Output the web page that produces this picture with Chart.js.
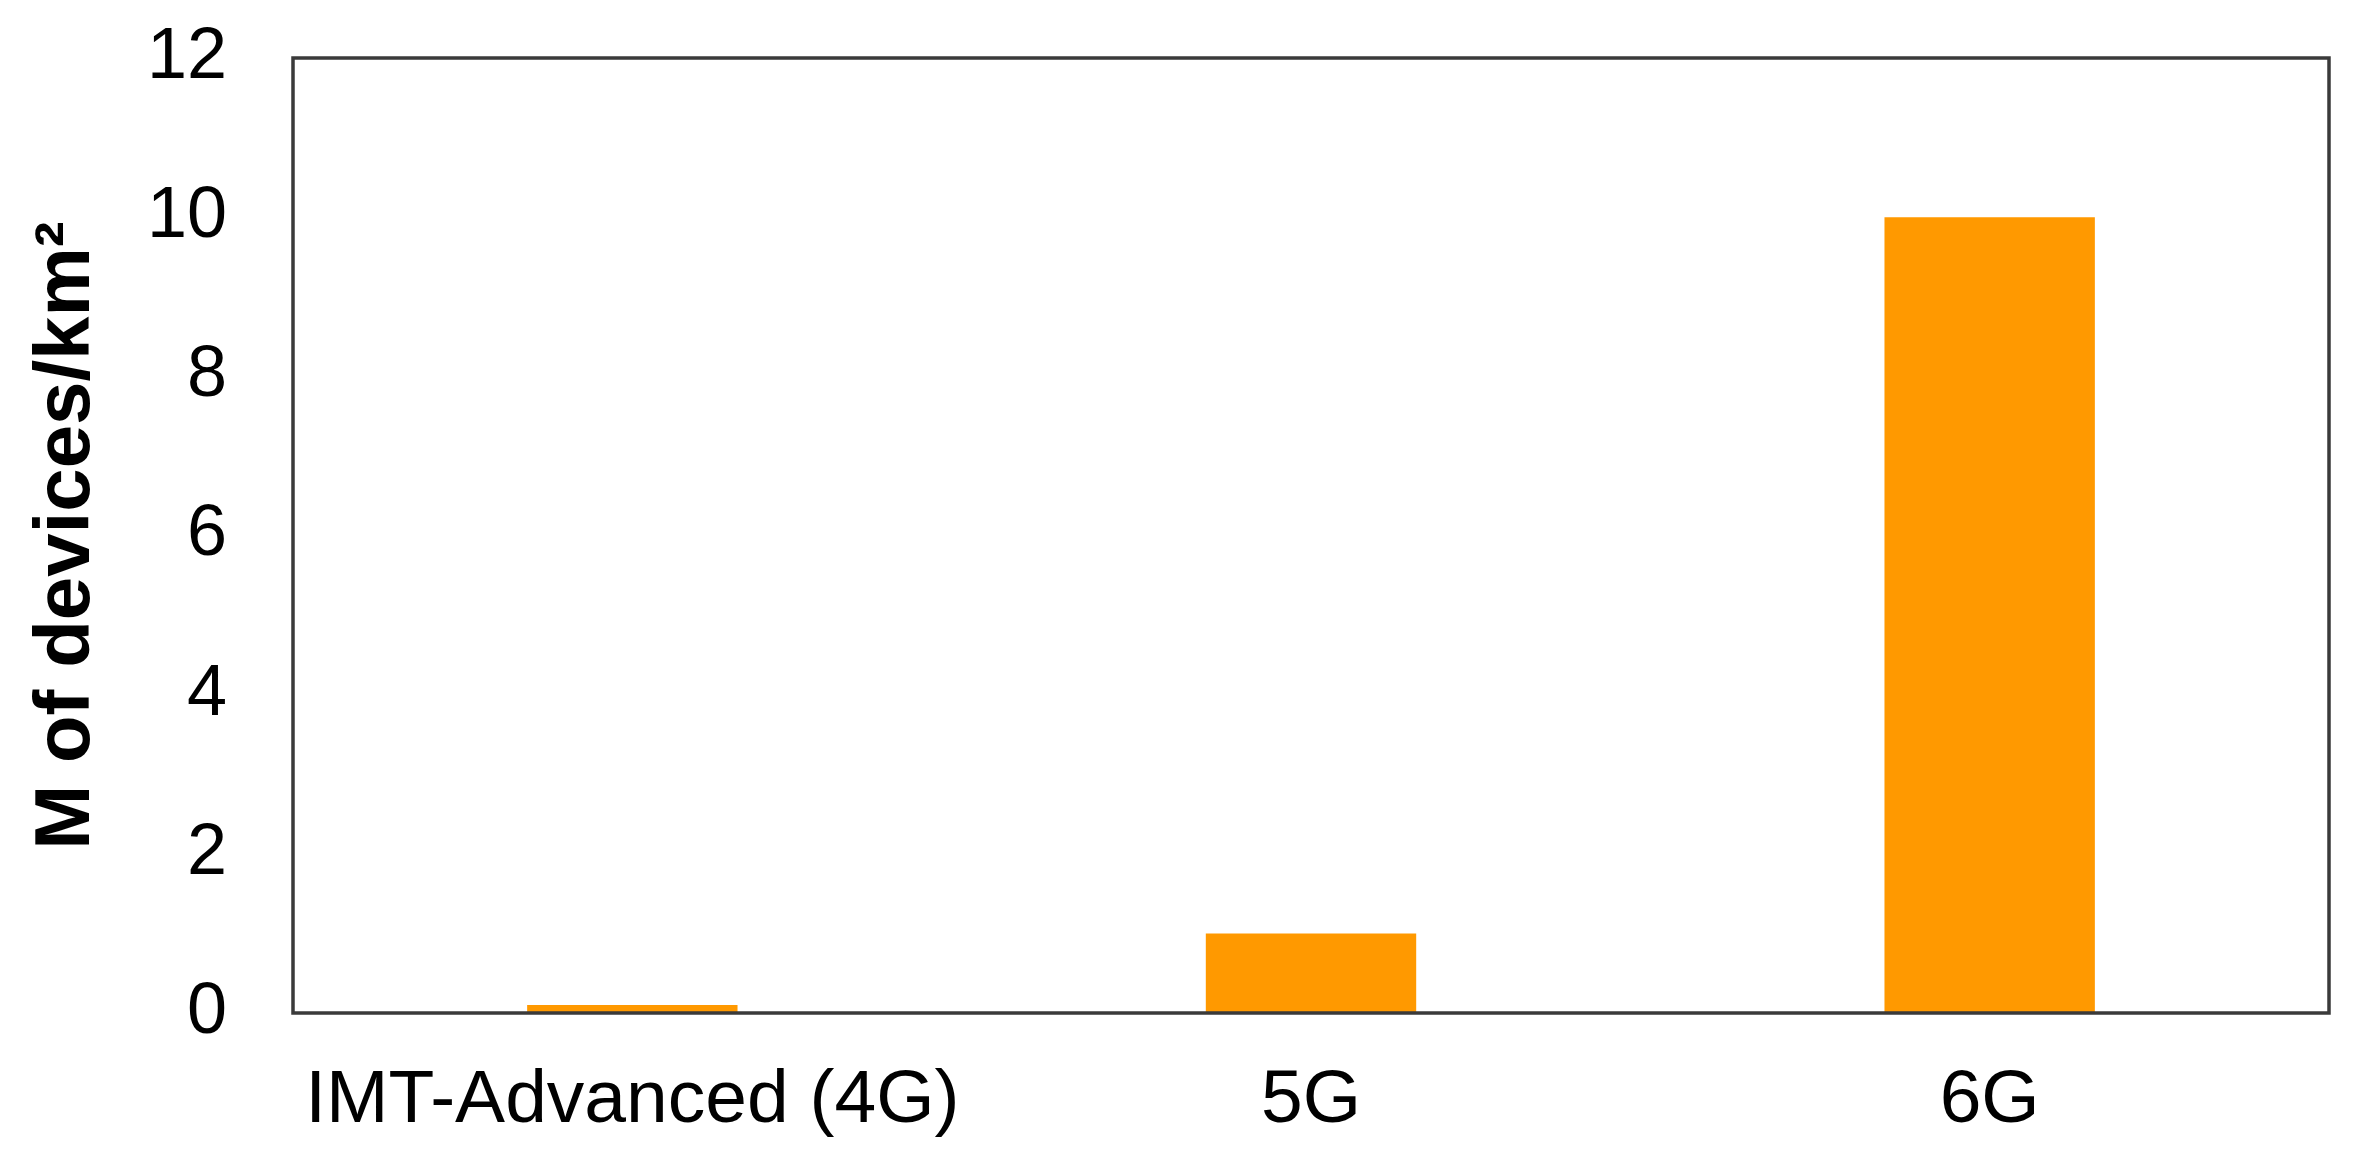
<!DOCTYPE html>
<html>
<head>
<meta charset="utf-8">
<script src="https://cdn.jsdelivr.net/npm/chart.js@4/dist/chart.umd.min.js"></script>
<style>
  html, body { margin: 0; padding: 0; background: #fff; }
  #wrap { width: 2380px; height: 1171px; }
</style>
</head>
<body>
<div id="wrap"><canvas id="chart" width="2380" height="1171"></canvas></div>
<script>
// ── Daten ────────────────────────────────────────────────────────────────────
const categories = ['IMT-Advanced (4G)', '5G', '6G'];
const densityValues = [0.1, 1, 10]; // M Geraete pro km²
const yTicks = [0, 2, 4, 6, 8, 10, 12];
const yTitle = 'M of devices/km²';

const BAR_COLOR = '#ff9900';
const FRAME_COLOR = '#3a3a3a';
const FONT = "'Liberation Sans', Arial, sans-serif";

// Rahmen um die Plotflaeche (wie im Original alle vier Seiten)
const frame = {
  id: 'frame',
  afterDatasetsDraw(chart) {
    const a = chart.chartArea;
    const c = chart.ctx;
    c.save();
    c.strokeStyle = FRAME_COLOR;
    c.lineWidth = 3.5;
    c.strokeRect(a.left, a.top, a.right - a.left, a.bottom - a.top);
    c.restore();
  }
};

new Chart(document.getElementById('chart'), {
  type: 'bar',
  data: {
    labels: categories,
    datasets: [{
      data: densityValues,
      backgroundColor: BAR_COLOR,
      borderWidth: 0,
      barPercentage: 0.31,
      categoryPercentage: 1
    }]
  },
  options: {
    responsive: false,
    devicePixelRatio: 1,
    animation: false,
    layout: { padding: { top: 58, right: 51, bottom: 0, left: 0 } },
    plugins: { legend: { display: false }, tooltip: { enabled: false } },
    scales: {
      x: {
        afterFit: (s) => { s.height = 158; },
        grid: { display: false, drawTicks: false },
        border: { display: false },
        ticks: { color: '#000', font: { family: FONT, size: 75 }, padding: 43, maxRotation: 0 }
      },
      y: {
        min: 0,
        max: 12,
        afterBuildTicks: (s) => { s.ticks = yTicks.map(v => ({ value: v })); },
        // feste Breite; Tick-Padding soll den oberen Rand nicht aufblaehen
        afterFit: (s) => { s.width = 293; s.paddingTop = 0; s.paddingBottom = 0; },
        grid: { display: false, drawTicks: false },
        border: { display: false },
        ticks: { color: '#000', font: { family: FONT, size: 72 }, padding: 66 },
        title: {
          display: true,
          text: yTitle,
          color: '#000',
          font: { family: FONT, size: 78, weight: 'bold' },
          padding: { top: 21, bottom: 0 }
        }
      }
    }
  },
  plugins: [frame]
});
</script>
</body>
</html>
